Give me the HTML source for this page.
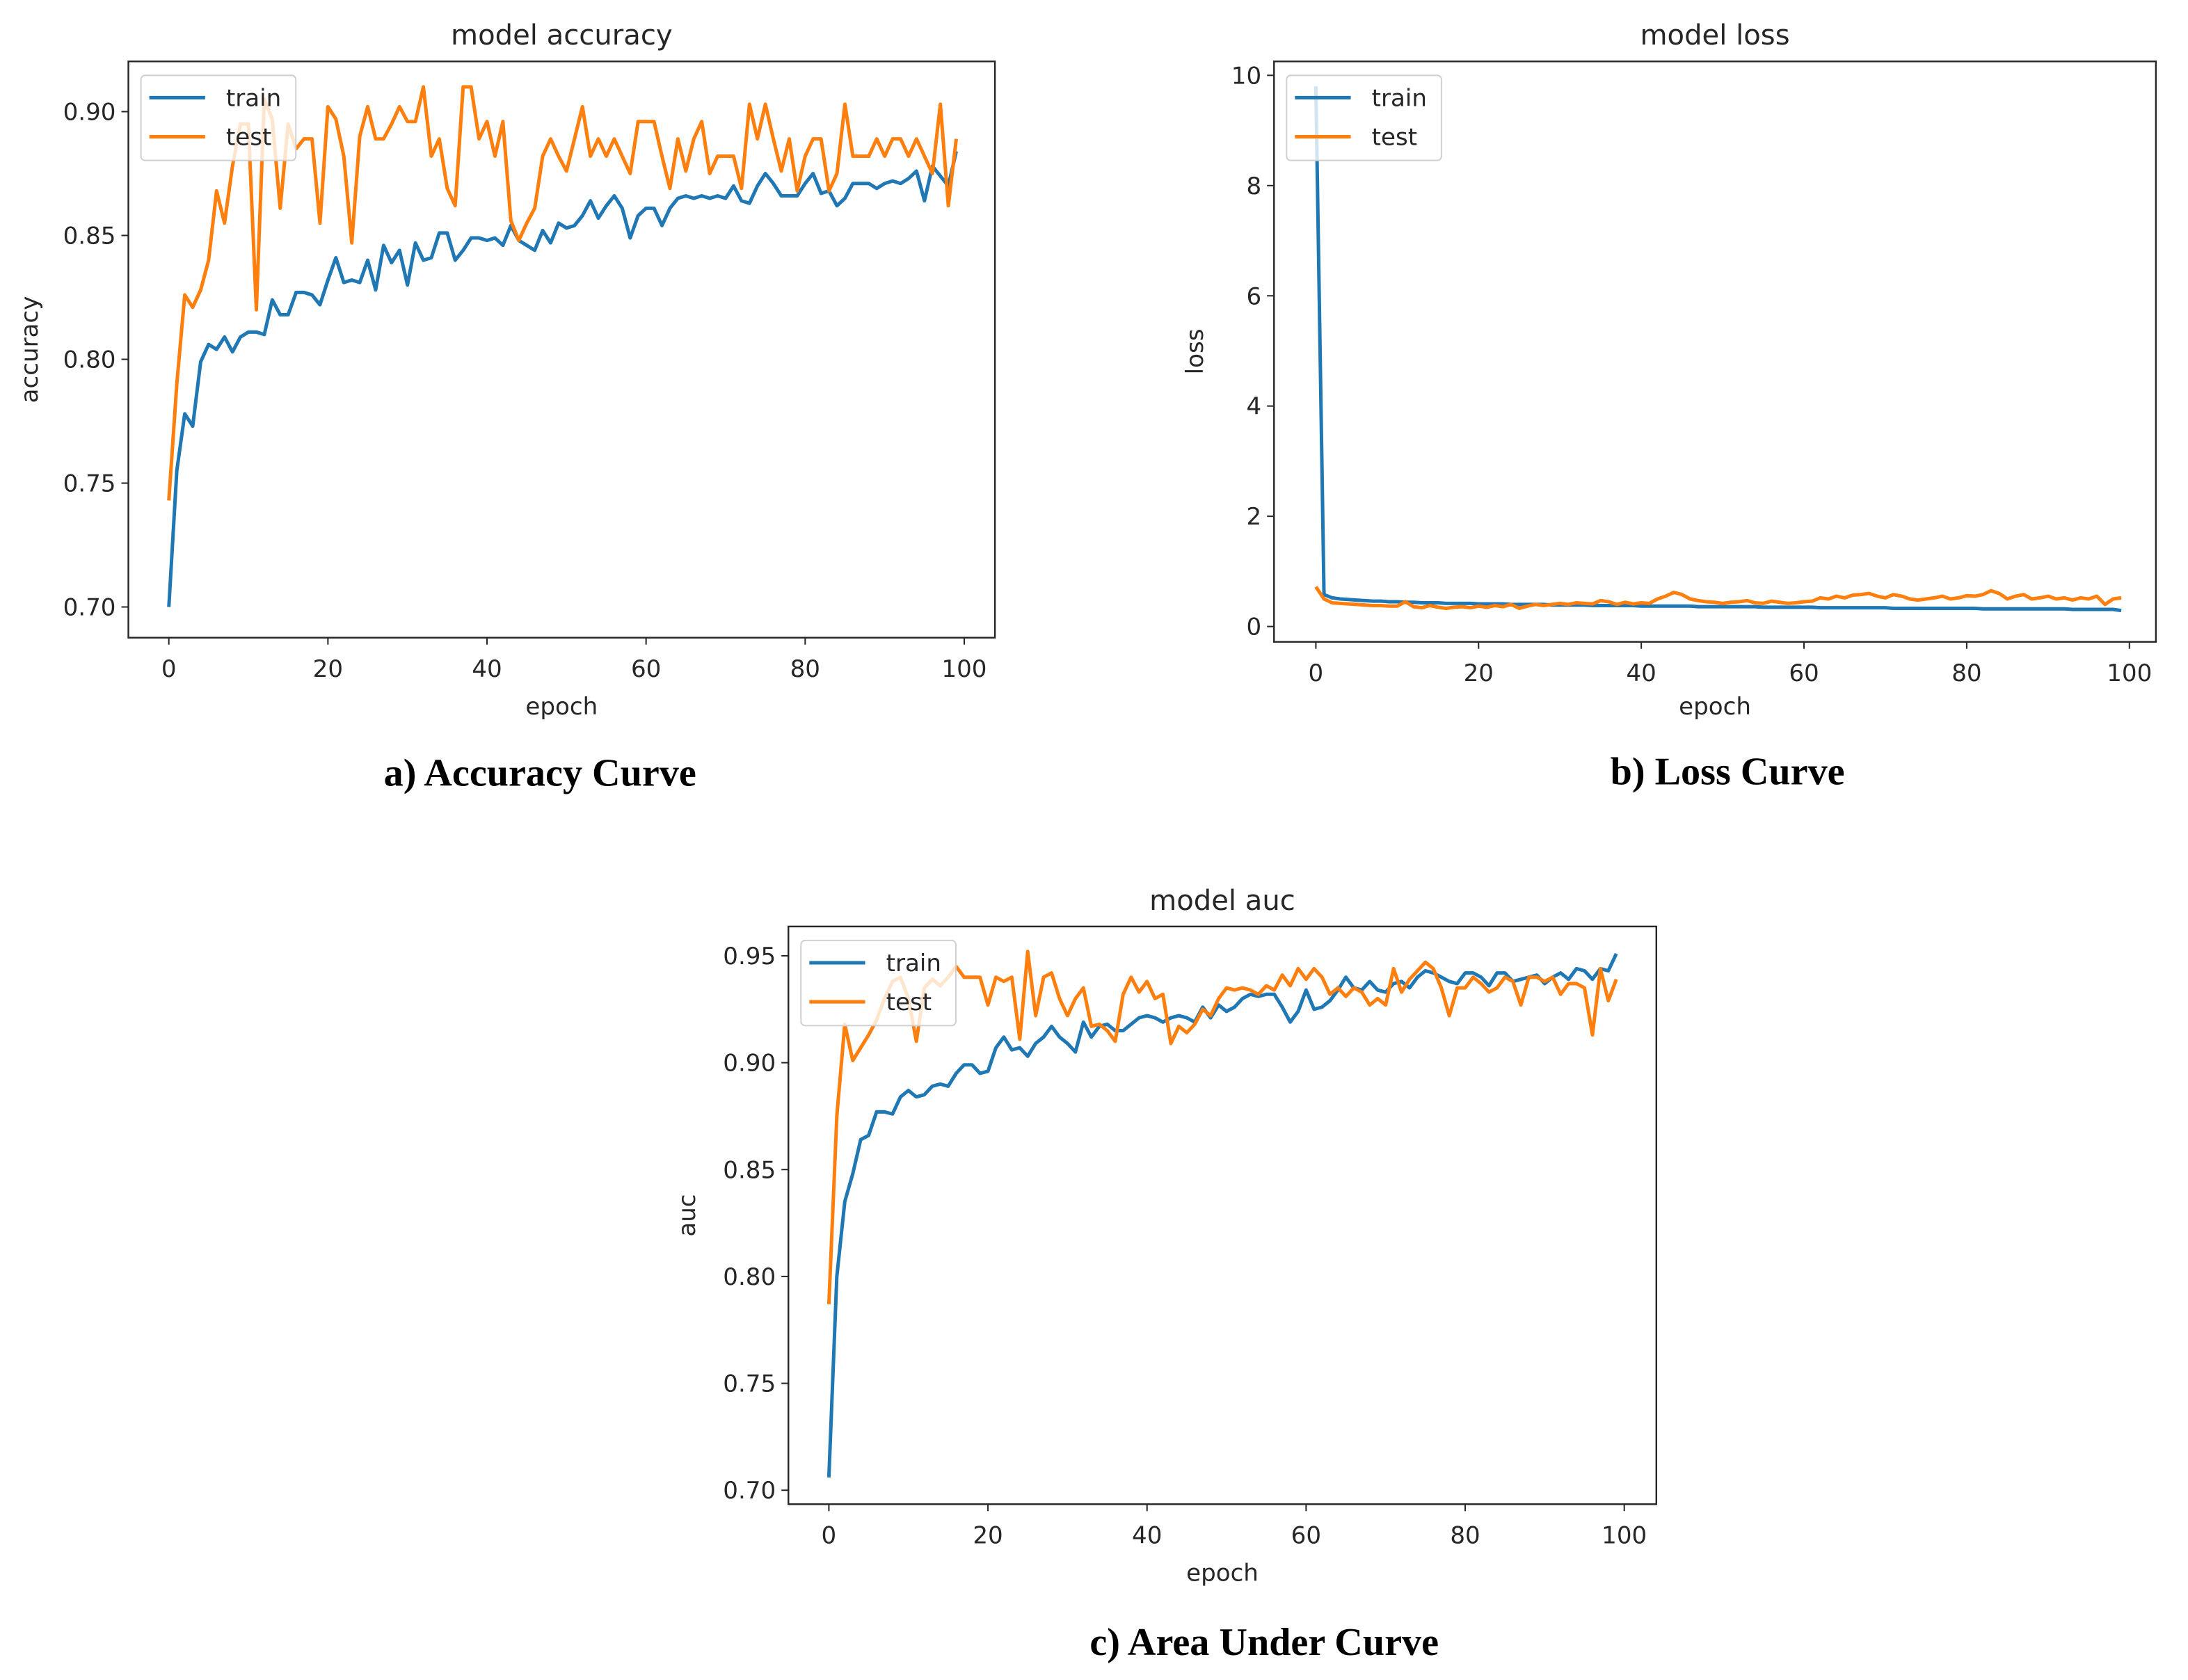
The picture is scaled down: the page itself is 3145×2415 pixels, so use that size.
<!DOCTYPE html>
<html><head><meta charset="utf-8"><style>
html,body{margin:0;padding:0;background:#fff;}
svg{display:block;}
text{font-family:"DejaVu Sans","Liberation Sans",sans-serif;fill:#262626;}
.cap{font-family:"Liberation Serif",serif;font-weight:bold;fill:#000;}
</style></head><body>
<svg id="fig" width="3145" height="2415" viewBox="0 0 1568 1204" preserveAspectRatio="none" xmlns="http://www.w3.org/2000/svg">
<rect width="1568" height="1204" fill="#fff"/>
</svg>
<script>
const epochTicks=[0,20,40,60,80,100];
const accTicks=[0.70,0.75,0.80,0.85,0.90];
const lossTicks=[0,2,4,6,8,10];
const aucTicks=[0.70,0.75,0.80,0.85,0.90,0.95];
const accTrain=[0.700,0.755,0.778,0.773,0.799,0.806,0.804,0.809,0.803,0.809,0.811,0.811,0.810,0.824,0.818,0.818,0.827,0.827,0.826,0.822,0.832,0.841,0.831,0.832,0.831,0.840,0.828,0.846,0.839,0.844,0.830,0.847,0.840,0.841,0.851,0.851,0.840,0.844,0.849,0.849,0.848,0.849,0.846,0.854,0.848,0.846,0.844,0.852,0.847,0.855,0.853,0.854,0.858,0.864,0.857,0.862,0.866,0.861,0.849,0.858,0.861,0.861,0.854,0.861,0.865,0.866,0.865,0.866,0.865,0.866,0.865,0.870,0.864,0.863,0.870,0.875,0.871,0.866,0.866,0.866,0.871,0.875,0.867,0.868,0.862,0.865,0.871,0.871,0.871,0.869,0.871,0.872,0.871,0.873,0.876,0.864,0.878,0.874,0.870,0.884];
const accTest=[0.743,0.790,0.826,0.821,0.828,0.840,0.868,0.855,0.878,0.895,0.895,0.820,0.905,0.897,0.861,0.895,0.885,0.889,0.889,0.855,0.902,0.897,0.882,0.847,0.890,0.902,0.889,0.889,0.895,0.902,0.896,0.896,0.910,0.882,0.889,0.869,0.862,0.910,0.910,0.889,0.896,0.882,0.896,0.856,0.848,0.855,0.861,0.882,0.889,0.882,0.876,0.889,0.902,0.882,0.889,0.882,0.889,0.882,0.875,0.896,0.896,0.896,0.882,0.869,0.889,0.876,0.889,0.896,0.875,0.882,0.882,0.882,0.869,0.903,0.889,0.903,0.889,0.876,0.889,0.868,0.882,0.889,0.889,0.868,0.875,0.903,0.882,0.882,0.882,0.889,0.882,0.889,0.889,0.882,0.889,0.882,0.875,0.903,0.862,0.889];
const lossTrain=[9.8,0.58,0.52,0.50,0.49,0.48,0.47,0.46,0.46,0.45,0.45,0.44,0.44,0.43,0.43,0.43,0.42,0.42,0.42,0.42,0.41,0.41,0.41,0.41,0.40,0.40,0.40,0.40,0.40,0.39,0.39,0.39,0.39,0.39,0.38,0.38,0.38,0.38,0.38,0.38,0.37,0.37,0.37,0.37,0.37,0.37,0.37,0.36,0.36,0.36,0.36,0.36,0.36,0.36,0.36,0.35,0.35,0.35,0.35,0.35,0.35,0.35,0.34,0.34,0.34,0.34,0.34,0.34,0.34,0.34,0.34,0.33,0.33,0.33,0.33,0.33,0.33,0.33,0.33,0.33,0.33,0.33,0.32,0.32,0.32,0.32,0.32,0.32,0.32,0.32,0.32,0.32,0.32,0.31,0.31,0.31,0.31,0.31,0.31,0.29];
const lossTest=[0.72,0.50,0.43,0.42,0.41,0.40,0.39,0.38,0.38,0.37,0.37,0.45,0.36,0.34,0.38,0.35,0.33,0.35,0.36,0.34,0.37,0.35,0.38,0.36,0.40,0.33,0.37,0.40,0.38,0.40,0.42,0.40,0.43,0.42,0.41,0.47,0.45,0.40,0.44,0.41,0.43,0.42,0.50,0.55,0.62,0.58,0.50,0.47,0.45,0.44,0.42,0.44,0.45,0.47,0.43,0.42,0.46,0.44,0.42,0.43,0.45,0.46,0.52,0.50,0.55,0.52,0.57,0.58,0.60,0.55,0.52,0.58,0.55,0.50,0.48,0.50,0.52,0.55,0.50,0.52,0.56,0.55,0.58,0.65,0.60,0.50,0.55,0.58,0.50,0.52,0.55,0.50,0.52,0.48,0.52,0.50,0.55,0.40,0.50,0.52];
const aucTrain=[0.706,0.800,0.835,0.848,0.864,0.866,0.877,0.877,0.876,0.884,0.887,0.884,0.885,0.889,0.890,0.889,0.895,0.899,0.899,0.895,0.896,0.907,0.912,0.906,0.907,0.903,0.909,0.912,0.917,0.912,0.909,0.905,0.919,0.912,0.917,0.918,0.915,0.915,0.918,0.921,0.922,0.921,0.919,0.921,0.922,0.921,0.919,0.926,0.921,0.927,0.924,0.926,0.930,0.932,0.931,0.932,0.932,0.926,0.919,0.924,0.934,0.925,0.926,0.929,0.934,0.940,0.935,0.934,0.938,0.934,0.933,0.937,0.938,0.935,0.940,0.943,0.942,0.940,0.938,0.937,0.942,0.942,0.940,0.936,0.942,0.942,0.938,0.939,0.940,0.941,0.937,0.940,0.942,0.939,0.944,0.943,0.939,0.944,0.943,0.951];
const aucTest=[0.787,0.875,0.918,0.901,0.907,0.913,0.920,0.930,0.938,0.940,0.930,0.910,0.935,0.939,0.936,0.940,0.945,0.940,0.940,0.940,0.927,0.940,0.938,0.940,0.911,0.952,0.922,0.940,0.942,0.930,0.922,0.930,0.935,0.917,0.918,0.915,0.910,0.932,0.940,0.933,0.938,0.930,0.932,0.909,0.917,0.914,0.918,0.925,0.922,0.930,0.935,0.934,0.935,0.934,0.932,0.936,0.934,0.941,0.936,0.944,0.939,0.944,0.940,0.932,0.935,0.931,0.935,0.933,0.927,0.930,0.927,0.944,0.933,0.939,0.943,0.947,0.944,0.935,0.922,0.935,0.935,0.940,0.937,0.933,0.935,0.940,0.938,0.927,0.940,0.940,0.938,0.940,0.932,0.937,0.937,0.935,0.913,0.944,0.929,0.939];

const NS='http://www.w3.org/2000/svg';
const svg=document.getElementById('fig');
function mk(tag,attrs,parent,txt){const e=document.createElementNS(NS,tag);for(const k in attrs)e.setAttribute(k,attrs[k]);if(txt!==undefined)e.textContent=txt;(parent||svg).appendChild(e);return e;}

function panel(o){
  const g=mk('g',{});
  
  
  const xs=v=>o.x0+(v-0)*(o.x100-o.x0)/100;
  const ys=v=>o.yA+(v-o.vA)*(o.yB-o.yA)/(o.vB-o.vA);
  const frame=mk('rect',{x:o.L,y:o.T,width:o.R-o.L,height:o.B-o.T,fill:'#fff',stroke:'#262626','stroke-width':1.2},g);
  
  
  const t=mk('text',{x:(o.L+o.R)/2,y:o.T-12,'text-anchor':'middle','font-size':20},g,o.title);
  
  
  epochTicks.forEach(v=>{
    const x=xs(v);
    mk('line',{x1:x,x2:x,y1:o.B,y2:o.B+5,stroke:'#262626','stroke-width':1},g);
    const l=mk('text',{x:x,y:o.B+28,'text-anchor':'middle','font-size':17},g,String(v));
    
    
  });
  o.ticks.forEach(v=>{
    const y=ys(v);
    mk('line',{x1:o.L-5,x2:o.L,y1:y,y2:y,stroke:'#262626','stroke-width':1},g);
    const l=mk('text',{x:o.L-9,y:y+6,'text-anchor':'end','font-size':17},g,o.fmt(v));
    
    
  });
  const xl=mk('text',{x:(o.L+o.R)/2,y:o.B+o.xlOff,'text-anchor':'middle','font-size':17},g,'epoch');
  
  
  const yl=mk('text',{x:0,y:0,'text-anchor':'middle','font-size':17,transform:`translate(${o.ylx},${(o.T+o.B)/2}) rotate(-90)`},g,o.ylabel);
  
  
  [[o.train,'#1f77b4','train'],[o.test,'#ff7f0e','test']].forEach(([arr,c,n])=>{
    const d=arr.map((v,i)=>(i?'L':'M')+xs(i).toFixed(2)+','+ys(v).toFixed(2)).join('');
    const p=mk('path',{d:d,fill:'none',stroke:c,'stroke-width':2.5,'stroke-linejoin':'round'},g);
    
    
  });
  const lg=mk('g',{},g);
  
  
  mk('rect',{x:o.L+9,y:o.T+10,width:111,height:61,rx:3,fill:'#fff','fill-opacity':0.8,stroke:'#d0d0d0','stroke-width':1},lg);
  [['train','#1f77b4',26],['test','#ff7f0e',54]].forEach(([n,c,dy])=>{
    mk('line',{x1:o.L+15,x2:o.L+55,y1:o.T+dy,y2:o.T+dy,stroke:c,'stroke-width':2.5},lg);
    const e=mk('text',{x:o.L+70,y:o.T+dy+6,'font-size':17},lg,n);
    
    
  });
  const cap=mk('text',{x:o.capX,y:o.capY,'text-anchor':'middle','font-size':28,class:'cap'},g,o.caption);
  
  
}
const f2=v=>v.toFixed(2);
panel({name:'accuracy',title:'model accuracy',ylabel:'accuracy',caption:'a) Accuracy Curve',L:92,R:713,T:44,B:457,x0:121,x100:691,vA:0.70,yA:435,vB:0.90,yB:80,ticks:accTicks,fmt:f2,train:accTrain,test:accTest,ylx:27,capX:387,capY:563,xlOff:55});
panel({name:'loss',title:'model loss',ylabel:'loss',caption:'b) Loss Curve',L:913,R:1545,T:44,B:460,x0:943,x100:1526,vA:0,yA:449,vB:10,yB:54,ticks:lossTicks,fmt:v=>String(v),train:lossTrain,test:lossTest,ylx:862,capX:1238,capY:562,xlOff:52});
panel({name:'auc',title:'model auc',ylabel:'auc',caption:'c) Area Under Curve',L:565,R:1187,T:664,B:1078,x0:594,x100:1164,vA:0.70,yA:1068,vB:0.95,yB:685,ticks:aucTicks,fmt:f2,train:aucTrain,test:aucTest,ylx:498,capX:906,capY:1186,xlOff:55});
</script>
</body></html>
